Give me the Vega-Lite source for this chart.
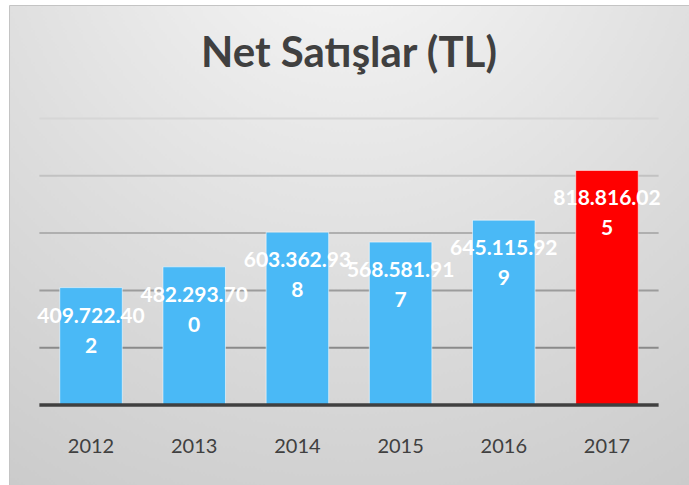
{
  "$schema": "https://vega.github.io/schema/vega-lite/v6.json",
  "width": 680,
  "height": 480,
  "autosize": {"type": "none"},
  "padding": {"left": 9, "top": 5, "right": 0, "bottom": 0},
  "background": "#ffffff",
  "config": {
    "view": {
      "fill": {"gradient": "radial", "x1": 0.5, "y1": 0.0, "x2": 0.5, "y2": 0.0, "r1": 0, "r2": 1.1,
        "stops": [{"offset": 0, "color": "#f8f8f8"}, {"offset": 0.5, "color": "#dedede"}, {"offset": 1, "color": "#c6c6c6"}]},
      "stroke": "#c4c4c4",
      "strokeWidth": 1
    },
    "font": "Lato"
  },
  "title": {
    "text": "Net Satışlar (TL)",
    "font": "Lato",
    "fontSize": 42,
    "fontWeight": "bold",
    "color": "#404040",
    "anchor": "middle",
    "frame": "group",
    "baseline": "alphabetic",
    "offset": -104
  },
  "datasets": {
    "sales": [
      {"year": "2012", "value": 409722402, "label": "409.722.40\n2"},
      {"year": "2013", "value": 482293700, "label": "482.293.70\n0"},
      {"year": "2014", "value": 603362938, "label": "603.362.93\n8"},
      {"year": "2015", "value": 568581917, "label": "568.581.91\n7"},
      {"year": "2016", "value": 645115929, "label": "645.115.92\n9"},
      {"year": "2017", "value": 818816025, "label": "818.816.02\n5"}
    ],
    "grid": [
      {"v": 200000000, "xs": "2012", "xe": "2017"},
      {"v": 400000000, "xs": "2012", "xe": "2017"},
      {"v": 600000000, "xs": "2012", "xe": "2017"},
      {"v": 800000000, "xs": "2012", "xe": "2017"},
      {"v": 1000000000, "xs": "2012", "xe": "2017"}
    ],
    "base": [
      {"v": 0, "xs": "2012", "xe": "2017"}
    ]
  },
  "layer": [
    {
      "data": {"name": "grid"},
      "mark": {"type": "rule", "strokeWidth": 2},
      "encoding": {
        "x": {"field": "xs", "type": "nominal", "bandPosition": -0.3256,
          "scale": {"paddingInner": 0.394, "paddingOuter": 0.4918, "align": 0.5},
          "axis": {"offset": -80, "domain": false, "ticks": false, "tickSize": 0, "labelPadding": 31,
            "labelFontSize": 20, "labelColor": "#404040", "labelFont": "Lato", "title": null, "grid": false, "labelAngle": 0}},
        "x2": {"field": "xe", "bandPosition": 1.3256},
        "y": {"field": "v", "type": "quantitative",
          "scale": {"domain": [-279200000, 1396200000], "nice": false, "zero": false}, "axis": null},
        "stroke": {"field": "v", "type": "quantitative",
          "scale": {"domain": [200000000, 1000000000], "range": ["#8a8a8a", "#d6d6d6"]}, "legend": null}
      }
    },
    {
      "data": {"name": "sales"},
      "mark": {"type": "bar", "stroke": "#ffffff", "strokeOpacity": 0.55, "strokeWidth": 1},
      "encoding": {
        "x": {"field": "year", "type": "nominal"},
        "y": {"field": "value", "type": "quantitative"},
        "color": {"field": "year", "type": "nominal",
          "scale": {"domain": ["2012", "2013", "2014", "2015", "2016", "2017"],
            "range": ["#4ab9f6", "#4ab9f6", "#4ab9f6", "#4ab9f6", "#4ab9f6", "#ff0000"]}, "legend": null}
      }
    },
    {
      "data": {"name": "base"},
      "mark": {"type": "rule", "strokeWidth": 3.5, "color": "#404040"},
      "encoding": {
        "x": {"field": "xs", "type": "nominal", "bandPosition": -0.3256},
        "x2": {"field": "xe", "bandPosition": 1.3256},
        "y": {"field": "v", "type": "quantitative"}
      }
    },
    {
      "data": {"name": "sales"},
      "mark": {"type": "text", "lineBreak": "\n", "baseline": "alphabetic", "dy": 35, "fontSize": 21,
        "fontWeight": "bold", "color": "#ffffff", "lineHeight": 30, "align": "center", "font": "Lato"},
      "encoding": {
        "x": {"field": "year", "type": "nominal"},
        "y": {"field": "value", "type": "quantitative"},
        "text": {"field": "label"}
      }
    }
  ]
}
